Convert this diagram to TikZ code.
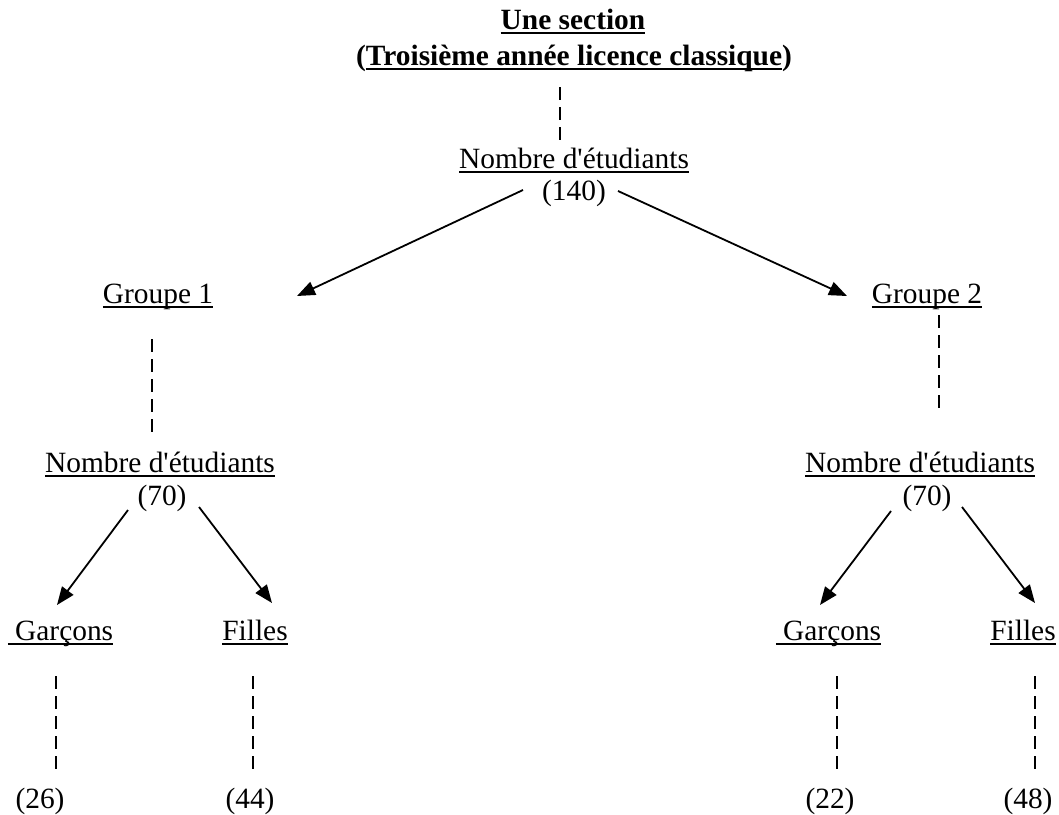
\documentclass[tikz,border=0pt]{standalone}
\usepackage{fontspec}
\setmainfont{Liberation Serif}
\usetikzlibrary{arrows.meta,calc}
\newcommand{\souligne}[1]{\setbox0\hbox{#1}\rlap{\rule[-5pt]{\wd0}{2pt}}\box0}
\tikzset{
Texte/.style={
 anchor=base,
 inner sep=0pt,
 font=\fontsize{29.4}{34}\selectfont
 },
Titre/.style={
 Texte,
 font=\fontsize{29.4}{34}\selectfont\bfseries
 },
Fleche/.style={
 draw=black,
 line width=1.8pt,
 -{Triangle[length=18pt,width=14pt]}
 },
Pointille/.style={
 draw=black,
 line width=1.8pt,
 dash pattern=on 13pt off 7pt
 }
}
\begin{document}
\begin{tikzpicture}[x=1pt,y=-1pt]
\useasboundingbox (0,0) rectangle (1059,814);
% titre
\node[Titre] (t1) at (573,29) {\souligne{Une section}};
\node[Titre] (t2) at (574,65) {(\souligne{Troisième année licence classique})};
\node[Texte] (nb) at (574,168) {\souligne{Nombre d\textquotesingle étudiants}};
\node[Texte] (n140) at (574,200) {(140)};
% groupes
\node[Texte] (g1) at (158,303) {\souligne{Groupe 1}};
\node[Texte] (g2) at (927,303) {\souligne{Groupe 2}};
\node[Texte] (nbg) at (160,472) {\souligne{Nombre d\textquotesingle étudiants}};
\node[Texte] (ng70) at (162,505) {(70)};
\node[Texte] (nbd) at (920,472) {\souligne{Nombre d\textquotesingle étudiants}};
\node[Texte] (nd70) at (927,505) {(70)};
% garcons et filles
\node[Texte] (gg) at (60.5,640) {\souligne{\ Garçons}};
\node[Texte] (fg) at (255,640) {\souligne{Filles}};
\node[Texte] (gd) at (828.5,640) {\souligne{\ Garçons}};
\node[Texte] (fd) at (1023,640) {\souligne{Filles}};
\node[Texte] (c26) at (40,808) {(26)};
\node[Texte] (c44) at (250,808) {(44)};
\node[Texte] (c22) at (830,808) {(22)};
\node[Texte] (c48) at (1028,808) {(48)};
% liens
\draw[Pointille] ($(t2.base)+(-14,22)$) -- ($(nb.base)+(-14,-21)$);
\draw[Fleche] ($(n140.base)+(-51,-10)$) -- ($(g1.base)+(139,-7)$);
\draw[Fleche] ($(n140.base)+(44,-9)$) -- ($(g2.base)+(-80,-7)$);
\draw[Pointille] ($(g1.base)+(-6,36)$) -- ($(nbg.base)+(-8,-36)$);
\draw[Pointille] ($(g2.base)+(12,12)$) -- ($(nbd.base)+(19,-59)$);
\draw[Fleche] ($(ng70.base)+(-34,5)$) -- ($(gg.base)+(-3.5,-35)$);
\draw[Fleche] ($(ng70.base)+(37,2)$) -- ($(fg.base)+(17,-37)$);
\draw[Fleche] ($(nd70.base)+(-36,6)$) -- ($(gd.base)+(-8.5,-35)$);
\draw[Fleche] ($(nd70.base)+(35,2)$) -- ($(fd.base)+(12,-37)$);
\draw[Pointille] ($(gg.base)+(-4.5,36)$) -- ($(c26.base)+(16,-35)$);
\draw[Pointille] ($(fg.base)+(-2,36)$) -- ($(c44.base)+(3,-35)$);
\draw[Pointille] ($(gd.base)+(8.5,36)$) -- ($(c22.base)+(7,-35)$);
\draw[Pointille] ($(fd.base)+(12,36)$) -- ($(c48.base)+(7,-35)$);
\end{tikzpicture}
\end{document}
